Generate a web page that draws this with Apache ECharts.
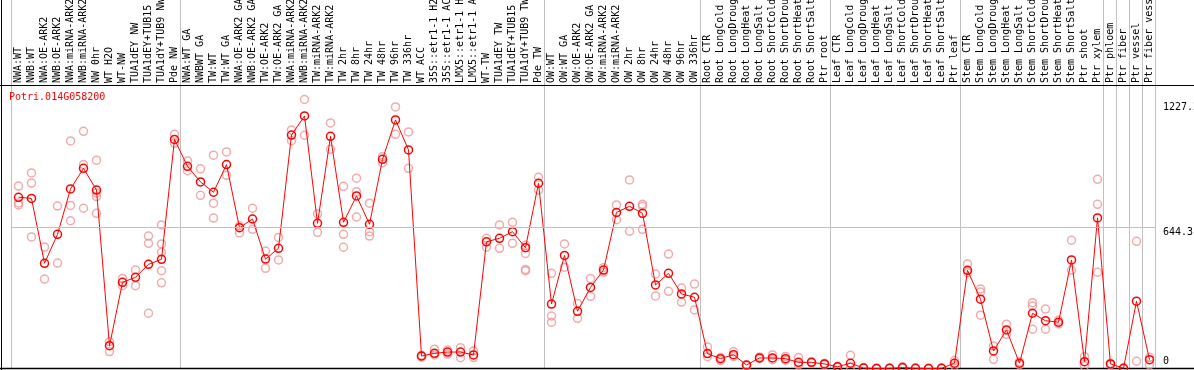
<!DOCTYPE html>
<html><head><meta charset="utf-8">
<script src="https://cdn.jsdelivr.net/npm/echarts@6/dist/echarts.min.js"></script>
<style>html,body{margin:0;padding:0;background:#fff}#c{width:1194px;height:370px}</style>
</head><body><div id="c"></div>
<script>
const chartTitle = 'Potri.014G058200';
const categories = [
 'NWA:WT','NWB:WT','NWA:OE-ARK2','NWB:OE-ARK2','NWA:miRNA-ARK2','NWB:miRNA-ARK2','NW 0hr','WT H2O','WT-NW','TUA1dEY NW','TUA1dEY+TUB15 NW','TUA1dY+TUB9 NW','Pde NW',
 'NWA:WT GA','NWBWT GA','TW:WT','TW:WT GA','NWA:OE-ARK2 GA','NWB:OE-ARK2 GA','TW:OE-ARK2','TW:OE-ARK2 GA','NWA:miRNA-ARK2 GA','NWB:miRNA-ARK2 GA','TW:miRNA-ARK2','TW:miRNA-ARK2 GA',
 'TW 2hr','TW 8hr','TW 24hr','TW 48hr','TW 96hr','TW 336hr','WT ACC','35S::etr1-1 H2O','35S::etr1-1 ACC','LMX5::etr1-1 H2O','LMX5::etr1-1 ACC','WT-TW','TUA1dEY TW','TUA1dEY+TUB15 TW','TUA1dY+TUB9 TW','Pde TW',
 'OW:WT','OW:WT GA','OW:OE-ARK2','OW:OE-ARK2 GA','OW:miRNA-ARK2','OW:miRNA-ARK2 GA','OW 2hr','OW 8hr','OW 24hr','OW 48hr','OW 96hr','OW 336hr',
 'Root CTR','Root LongCold','Root LongDrought','Root LongHeat','Root LongSalt','Root ShortCold','Root ShortDrought','Root ShortHeat','Root ShortSalt','Ptr root',
 'Leaf CTR','Leaf LongCold','Leaf LongDrought','Leaf LongHeat','Leaf LongSalt','Leaf ShortCold','Leaf ShortDrought','Leaf ShortHeat','Leaf ShortSalt','Ptr leaf',
 'Stem CTR','Stem LongCold','Stem LongDrought','Stem LongHeat','Stem LongSalt','Stem ShortCold','Stem ShortDrought','Stem ShortHeat','Stem ShortSalt','Ptr shoot','Ptr xylem',
 'Ptr phloem','Ptr fiber','Ptr vessel','Ptr fiber vessel'
];
const means = [
 781,776,480,612,819,913,814,104,393,416,475,498,1045,
 922,851,804,930,642,682,499,548,1065,1152,662,1059,667,787,658,954,1134,997,57,69,75,75,62,578,594,624,551,845,
 294,516,261,370,449,712,740,708,381,434,340,325,
 68,45,63,16,48,48,45,28,28,21,
 8,24,2,0,1,4,1,0,1,24,
 448,316,80,176,24,252,218,211,495,31,687,
 21,1,307,40
];
const replicates = [
 [832,755,746],[892,846,600],[554,408],[741,481],[1038,744,674],[1082,930,731],[950,801,784,708],[122,77],[411,378],[449,378],[604,571,252],[655,568,530,446,391],[1068,1027],
 [947,902],[911,790],[973,754,686],[988,881],[650,618],[731,635],[536,457],[598,495],[1088,1039],[1227,1064],[705,621],[1120,1000],[831,612,553],[868,806,691],[754,624,604],[966,939],[1193,1068],[1079,913],[60,52],[88,62],[84,66],[95,49],[80,50],[594,553],[655,548],[667,571],[562,525,452,446],[872,814],
 [434,239,211],[568,462],[297,229],[411,329],[460,440],[746,679],[860,626],[749,740,635],[431,331],[522,352],[367,303],[385,267],
 [98,54],[50,36],[77,55],[16,12],[52,45],[62,40],[55,38],[50,16],[30,26],[24,18],
 [10,6],[60,8],[4,1],[2,0],[2,0],[8,2],[2,0],[1,0],[2,0],[36,14],
 [477,437],[363,349,243],[103,42],[202,156],[31,18],[300,285,179],[271,179],[220,204],[585,449],[54,11],[863,749,439],
 [24,18],[2,0],[580,33],[51,16]
];
const groupStarts = [0,13,41,53,63,73,84,85,86,87,88];
const yMax = 1288.6;
const yMid = 644.3;
const yTickValues = [0, 644.3, 1227.2];
const yTickLabels = ['0', '644.3', '1227.2'];

const mono = 'DejaVu Sans Mono';
const scatterData = [];
replicates.forEach((arr, i) => arr.forEach(v => scatterData.push([i, v])));

const chart = echarts.init(document.getElementById('c'), null, {renderer: 'canvas'});
const option = {
  backgroundColor: '#fff',
  animation: false,
  title: {
    text: chartTitle, left: 9, top: 92, padding: 0,
    textStyle: {color: '#ff0000', fontSize: 10, fontWeight: 'normal', fontFamily: mono}
  },
  grid: {left: 12, right: 38, top: 86, bottom: 1.5, containLabel: false, outerBoundsMode: 'none'},
  xAxis: {
    type: 'category', position: 'top', data: categories, boundaryGap: true,
    axisLine: {show: false}, axisTick: {show: false}, splitLine: {show: false},
    axisLabel: {interval: 0, rotate: 90, margin: 3, fontSize: 10, fontFamily: mono, color: '#000', hideOverlap: false}
  },
  yAxis: {
    type: 'value', position: 'right', min: 0, max: yMax,
    axisLine: {show: false}, axisTick: {show: false}, splitLine: {show: false},
    axisLabel: {
      customValues: yTickValues, margin: 7, fontSize: 10, fontFamily: mono, color: '#000', align: 'left',
      formatter: function (v) {
        let idx = 0, best = Infinity;
        yTickValues.forEach((t, k) => { if (Math.abs(t - v) < best) { best = Math.abs(t - v); idx = k; } });
        return '{' + ['z', 'm', 't'][idx] + '|' + yTickLabels[idx] + '}';
      },
      rich: {
        z: {padding: [0, 0, 14, 0], fontSize: 10, fontFamily: mono, color: '#000'},
        m: {padding: [11, 0, 0, 0], fontSize: 10, fontFamily: mono, color: '#000'},
        t: {padding: [16, 0, 0, 0], fontSize: 10, fontFamily: mono, color: '#000'}
      }
    }
  },
  series: [
    {
      type: 'scatter', data: scatterData, symbol: 'circle', symbolSize: 8,
      itemStyle: {color: 'rgba(0,0,0,0)', borderColor: '#ee9696', borderWidth: 1.5},
      markLine: {
        silent: true, symbol: 'none', label: {show: false},
        lineStyle: {color: '#c0c0c0', width: 1, type: 'solid'},
        data: [{yAxis: yMid}]
      }
    },
    {
      type: 'line', data: means, symbol: 'circle', symbolSize: 8, showAllSymbol: true,
      lineStyle: {color: '#ff0000', width: 1},
      itemStyle: {color: 'rgba(0,0,0,0)', borderColor: '#ff0000', borderWidth: 1.5}
    }
  ]
};
chart.setOption(option);

const p0 = chart.convertToPixel({xAxisIndex: 0}, 0);
const p1 = chart.convertToPixel({xAxisIndex: 0}, 1);
const bw = p1 - p0;
const gfx = groupStarts.map(g => {
  const x = g < categories.length
    ? chart.convertToPixel({xAxisIndex: 0}, g) - bw / 2
    : chart.convertToPixel({xAxisIndex: 0}, categories.length - 1) + bw / 2;
  const px = Math.round(x) - 0.5;
  return {type: 'line', silent: true, z: -10, shape: {x1: px, y1: 0, x2: px, y2: 368}, style: {stroke: '#c0c0c0', lineWidth: 1}};
});
gfx.push({type: 'line', silent: true, shape: {x1: 1.5, y1: 0, x2: 1.5, y2: 370}, style: {stroke: '#000', lineWidth: 1}});
gfx.push({type: 'line', silent: true, shape: {x1: 0, y1: 85.5, x2: 1194, y2: 85.5}, style: {stroke: '#000', lineWidth: 1}});
gfx.push({type: 'line', silent: true, shape: {x1: 0, y1: 368.5, x2: 1194, y2: 368.5}, style: {stroke: '#000', lineWidth: 1.5}});
chart.setOption({graphic: gfx});
</script>
</body></html>
